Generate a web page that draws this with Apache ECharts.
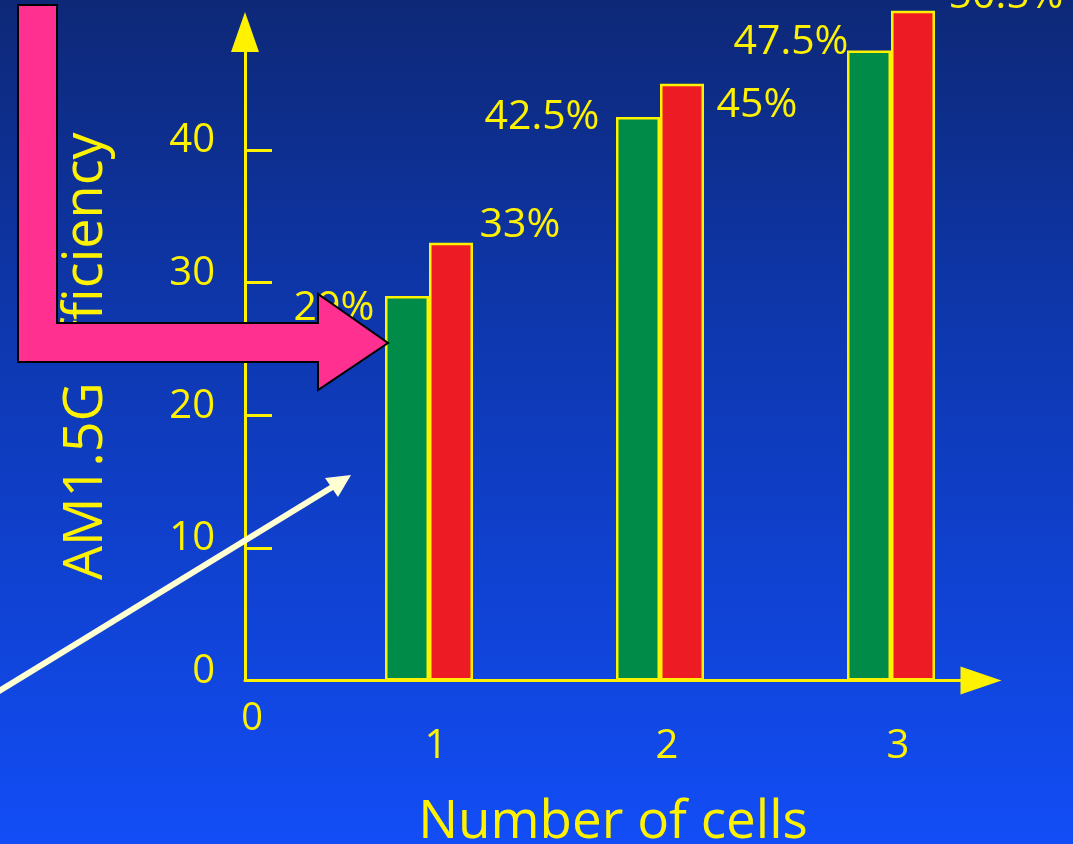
<!DOCTYPE html>
<html>
<head>
<meta charset="utf-8">
<title>AM1.5G Efficiency vs Number of cells</title>
<script src="https://cdn.jsdelivr.net/npm/echarts@6/dist/echarts.min.js"></script>
<style>
  html, body { margin: 0; padding: 0; }
  #chart { width: 1073px; height: 844px; }
</style>
</head>
<body>
<div id="chart"></div>
<script>
// Efficiency per number of junction cells
const categories = ['1', '2', '3'];
const greenValues = [29, 42.5, 47.5];
const redValues = [33, 45, 50.5];
const greenLabels = ['29%', '42.5%', '47.5%'];
const redLabels = ['33%', '45%', '50.5%'];
const yTickValues = [10, 20, 30, 40];
const yLabelValues = [0, 10, 20, 30, 40];

const YELLOW = '#FFF200';
const FONT = '"Open Sans", "DejaVu Sans", sans-serif';

// label placement (offset from bar top-centre)
const greenOffsets = [[-73, 12], [-96, 0], [-78, -8]];
const redOffsets = [[69, -18], [75, 22], [93, -14]];

function labelled(values, texts, offsets) {
  return values.map((v, i) => ({
    value: v,
    label: {
      show: true,
      position: 'top',
      distance: 0,
      align: 'center',
      verticalAlign: 'middle',
      offset: offsets[i],
      formatter: texts[i],
      color: YELLOW,
      fontFamily: FONT,
      fontSize: 41,
      fontWeight: 500
    }
  }));
}

const chart = echarts.init(document.getElementById('chart'));

const option = {
  animation: false,
  backgroundColor: {
    type: 'linear', x: 0, y: 0, x2: 0, y2: 1,
    colorStops: [
      { offset: 0, color: '#0D2877' },
      { offset: 0.4, color: '#0E38B0' },
      { offset: 1, color: '#124DF6' }
    ]
  },
  grid: [
    { left: 313.5, right: 66.5, top: 32, bottom: 163.5, outerBoundsMode: 'none' },
    { left: 245, right: 92, top: 32, bottom: 163.5, outerBoundsMode: 'none' }
  ],
  xAxis: [
    {
      type: 'category',
      gridIndex: 0,
      data: categories,
      axisLine: { show: false },
      axisTick: { show: false },
      axisLabel: {
        color: YELLOW, fontFamily: FONT, fontSize: 40, margin: 46,
        padding: [0, 0, 0, 14]
      }
    },
    {
      type: 'value',
      gridIndex: 1,
      min: 0, max: 1,
      splitLine: { show: false },
      axisTick: { show: false },
      axisLine: {
        show: true,
        lineStyle: { color: YELLOW, width: 3 },
        symbol: ['none', 'triangle'],
        symbolSize: [28, 41]
      },
      axisLabel: {
        customValues: [0],
        formatter: () => '0',
        color: YELLOW, fontFamily: FONT, fontSize: 38, margin: 20,
        padding: [0, 0, 0, 14]
      },
      name: 'Number of cells',
      nameLocation: 'middle',
      nameGap: 116,
      nameTextStyle: {
        color: YELLOW, fontFamily: FONT, fontSize: 53, fontWeight: 500
      }
    }
  ],
  yAxis: [
    {
      type: 'value',
      gridIndex: 0,
      min: 0, max: 48.9,
      interval: 10,
      offset: 68.5,
      splitLine: { show: false },
      axisLine: {
        show: true,
        lineStyle: { color: YELLOW, width: 3 },
        symbol: ['none', 'triangle'],
        symbolSize: [28, 40]
      },
      axisTick: {
        show: true, inside: true, length: 27,
        customValues: yTickValues,
        lineStyle: { color: YELLOW, width: 3 }
      },
      axisLabel: {
        customValues: yLabelValues,
        color: YELLOW, fontFamily: FONT, fontSize: 40, margin: 30,
        verticalAlign: 'bottom',
        lineHeight: 18
      },
      name: 'AM1.5G Efficiency',
      nameLocation: 'middle',
      nameGap: 131,
      nameTextStyle: {
        color: YELLOW, fontFamily: FONT, fontSize: 54, fontWeight: 500
      }
    },
    { type: 'value', gridIndex: 1, show: false, min: 0, max: 1 }
  ],
  series: [
    {
      type: 'bar',
      xAxisIndex: 0, yAxisIndex: 0,
      barWidth: 44,
      barGap: '0%',
      clip: false,
      itemStyle: { color: '#008C48', borderColor: YELLOW, borderWidth: 2.5 },
      data: labelled(greenValues, greenLabels, greenOffsets),
      z: 3
    },
    {
      type: 'bar',
      xAxisIndex: 0, yAxisIndex: 0,
      barWidth: 44,
      barGap: '0%',
      clip: false,
      itemStyle: { color: '#ED1C24', borderColor: YELLOW, borderWidth: 2.5 },
      data: labelled(redValues, redLabels, redOffsets),
      z: 3
    }
  ],
  graphic: [
    // cream pointer arrow
    {
      type: 'line', z: 20,
      shape: { x1: -4, y1: 693, x2: 334, y2: 486 },
      style: { stroke: '#FFFFD2', lineWidth: 6 }
    },
    {
      type: 'polygon', z: 20,
      shape: { points: [[351, 475], [325, 478], [338, 497]] },
      style: { fill: '#FFFFD2' }
    },
    // pink bent arrow
    {
      type: 'polygon', z: 30,
      shape: {
        points: [[18, 5], [57, 5], [57, 323], [318, 323], [318, 294],
                 [388, 343], [318, 390], [318, 362], [18, 362]]
      },
      style: { fill: '#FF3090', stroke: '#000000', lineWidth: 2 }
    }
  ]
};

chart.setOption(option);
</script>
</body>
</html>
